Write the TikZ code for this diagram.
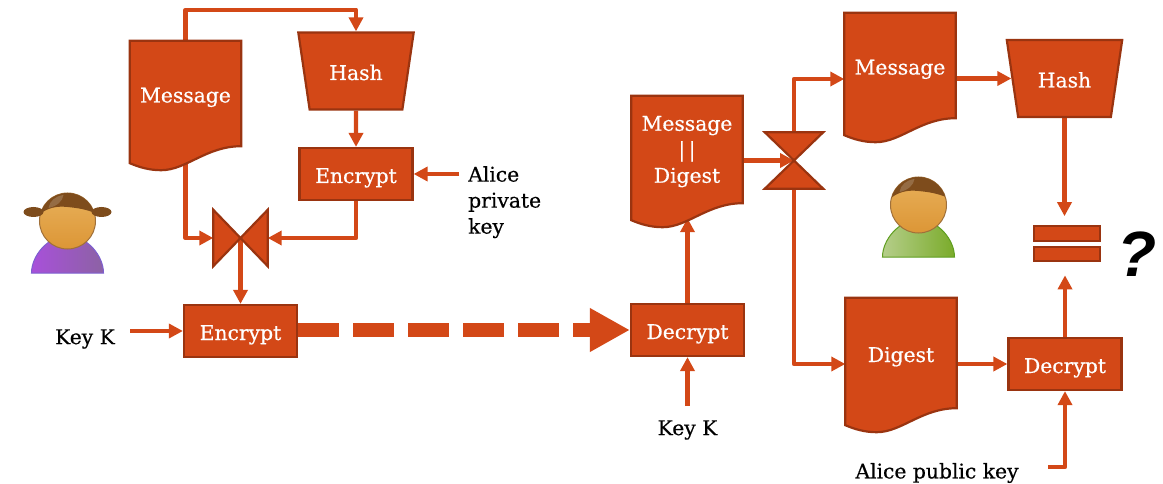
\documentclass[tikz,border=0pt]{standalone}
\usepackage{fontspec}
\setmainfont[FakeBold=0.5]{DejaVu Serif}
\newfontfamily\quizfont{Liberation Sans}
\usetikzlibrary{arrows.meta, positioning, calc, backgrounds, shapes.geometric}
\definecolor{rust}{HTML}{D34817}
\definecolor{rustdark}{HTML}{9A3410}
\definecolor{skintop}{HTML}{E8B05A}
\definecolor{skinlow}{HTML}{DC9636}
\definecolor{hairbrown}{HTML}{7E4C1C}
\definecolor{skinedge}{HTML}{A0703A}
\definecolor{gownleft}{HTML}{A850DA}
\definecolor{gownright}{HTML}{8C62A4}
\definecolor{gownedge}{HTML}{7D5FD0}
\definecolor{shirtleft}{HTML}{B5CE8A}
\definecolor{shirtright}{HTML}{7AAB2A}
\definecolor{shirtedge}{HTML}{5F9E20}
\tikzset{
  lbl/.style={font=\fontsize{20.3}{26}\selectfont, text=white, inner sep=0pt, text height=20pt, text depth=2pt},
  ext/.style={font=\fontsize{20.3}{26}\selectfont, text=black, inner sep=0pt},
  box/.style={draw=rustdark, line width=2.2pt, fill=rust, minimum width=113pt, minimum height=52pt, lbl},
  hashbox/.style={trapezium, shape border rotate=180, trapezium stretches=true,
    trapezium left angle=73.5, trapezium right angle=73.5, draw=rustdark, line width=2.2pt,
    fill=rust, minimum width=116pt, minimum height=77pt, lbl},
  docbox/.style={minimum width=111pt, lbl, align=center},
  mux/.style={minimum width=54pt, minimum height=56pt, inner sep=0pt},
  eqbar/.style={draw=rustdark, line width=2.2pt, fill=rust, minimum width=66pt, minimum height=14.5pt, inner sep=0pt},
  shp/.style={draw=rustdark, line width=2.2pt, fill=rust, line join=miter},
  arr/.style={-{Triangle[length=14pt, width=14pt]}, draw=rust, line width=4.4pt, line join=round},
}
% page-shaped outline behind a text node
\newcommand{\docshape}[1]{
  \path let \p1=(#1.north west), \p2=(#1.south east) in
    [shp] (\p1) -- (\x2,\y1) -- (\p2) .. controls (\x2-35pt,\y2) and (\x2-55pt,\y2-24pt) .. (\x2-80pt,\y2-24pt)
    .. controls (\x2-92pt,\y2-24pt) and (\x2-102pt,\y2-21pt) .. (\x1,\y2-17pt) -- cycle;
}
\newcommand{\person}[5]{
  \begin{scope}[shift={(#1,#2)}]
    \shade[left color=#3, right color=#4, draw=#5, line width=1pt] (-36,52) .. controls (-36,35) and (-20,15) .. (0,15)
      .. controls (20,15) and (36,35) .. (36,52) -- cycle;
    \shade[top color=skintop, bottom color=skinlow, draw=skinedge, line width=1pt] (0,0) circle[radius=28];
    \begin{scope}
      \clip (0,0) circle[radius=28];
      \fill[hairbrown] (-30,-30) -- (30,-30) -- (30,-7) .. controls (18,-12) and (10,-13) .. (0,-14)
        .. controls (-10,-15) and (-20,-14) .. (-30,-5) -- cycle;
      \fill[white, opacity=.18] (-19,-13) .. controls (-18,-20) and (-12,-25) .. (-4,-26)
        .. controls (-5,-20) and (-10,-15) .. (-19,-13) -- cycle;
    \end{scope}
  \end{scope}
}

\begin{document}
\begin{tikzpicture}[x=1pt, y=-1pt]
  \useasboundingbox (0,0) rectangle (1163,484);

  % sender
  \person{67.5}{221}{gownleft}{gownright}{gownedge}
  \fill[hairbrown] (33.5,212) ellipse[x radius=10, y radius=5];
  \fill[hairbrown] (101.5,212) ellipse[x radius=10, y radius=5];
  \node[docbox, minimum height=105pt] (msgA) at (185.5,93.5) {Message};
  \node[hashbox] (hashA) at (356,71) {Hash};
  \node[box] (encA) at (356,174) {Encrypt};
  \node[mux] (muxA) at (240.5,238) {};
  \node[box] (encB) at (240.5,331) {Encrypt};
  \node[ext, align=left, anchor=north west] (privKey) at (468,166) {Alice\\private\\key};
  \node[ext] (keyA) at (85,339) {Key K};
  \coordinate (privStart) at (459,174);
  \coordinate (keyStartA) at (130,333);

  % receiver
  \person{918.5}{205}{shirtleft}{shirtright}{shirtedge}
  \node[docbox, minimum height=107pt, text height=, text depth=] (msgDig) at (687,149.5) {\rule{0pt}{19pt}Message\\|\,|\\Digest};
  \node[box] (decA) at (687.5,330) {Decrypt};
  \node[ext] (keyB) at (687.5,430) {Key K};
  \coordinate (keyStartB) at (687.5,406);
  \node[mux, minimum width=58pt] (muxB) at (794,160.5) {};
  \node[docbox, minimum height=105pt] (msgB) at (900,65.5) {Message};
  \node[docbox, minimum height=110pt] (digest) at (901,353) {Digest};
  \node[hashbox] (hashB) at (1064.5,78.5) {Hash};
  \node[eqbar] (eqTop) at (1067,233.5) {};
  \node[eqbar] (eqBot) at (1067,254) {};
  \node[box] (decB) at (1065,364) {Decrypt};
  \node[ext] (pubKey) at (937,473) {Alice public key};
  \coordinate (pubStart) at (1048,467);
  \node[font=\quizfont\bfseries\itshape\fontsize{64}{64}\selectfont, inner sep=0pt] (quiz) at (1137,254) {?};

  % bowties
  \draw[shp] (muxA.north west) -- (muxA.center) -- (muxA.south west) -- cycle;
  \draw[shp] (muxA.north east) -- (muxA.center) -- (muxA.south east) -- cycle;
  \draw[shp] (muxB.north west) -- (muxB.north east) -- (muxB.center) -- cycle;
  \draw[shp] (muxB.south west) -- (muxB.south east) -- (muxB.center) -- cycle;

  \begin{scope}[on background layer]
    \draw[arr] (msgA.north) -- ++(0,-31) -| (hashA.north);
    \draw[arr] (msgA.south) |- (muxA.west);
    \draw[arr] (hashA.south) -- (encA.north);
    \draw[arr] (encA.south) |- (muxA.east);
    \draw[arr] (privStart) -- (encA.east);
    \draw[arr] (muxA.center) -- (encB.north);
    \draw[arr] (keyStartA |- encB.west) -- (encB.west);
    \draw[arr, shorten >=15pt] (decA.north) -- (decA.north |- msgDig.south);
    \draw[arr] (keyStartB) -- (decA.south);
    \draw[arr] (msgDig.east |- muxB.center) -- (muxB.center);
    \draw[arr] (muxB.north) |- ($(msgB.west)+(0,13.5)$);
    \draw[arr] (muxB.south) |- ($(digest.west)+(0,11)$);
    \draw[arr] (msgB.east |- hashB.west) -- (hashB.west);
    \draw[arr, shorten >=9pt] (hashB.south) -- (hashB.south |- eqTop.north);
    \draw[arr] (digest.east |- decB.west) -- (decB.west);
    \draw[arr, shorten >=13pt] (decB.north) -- (decB.north |- eqBot.south);
    \draw[arr] (pubStart) -| (decB.south);
    \draw[draw=rust, line width=14pt, dash pattern=on 41pt off 14pt, -{Triangle[length=40pt, width=41pt]}]
      (encB.east |- decA.west) -- (decA.west);
    \docshape{msgA}
    \docshape{msgDig}
    \docshape{msgB}
    \docshape{digest}
  \end{scope}
\end{tikzpicture}
\end{document}
